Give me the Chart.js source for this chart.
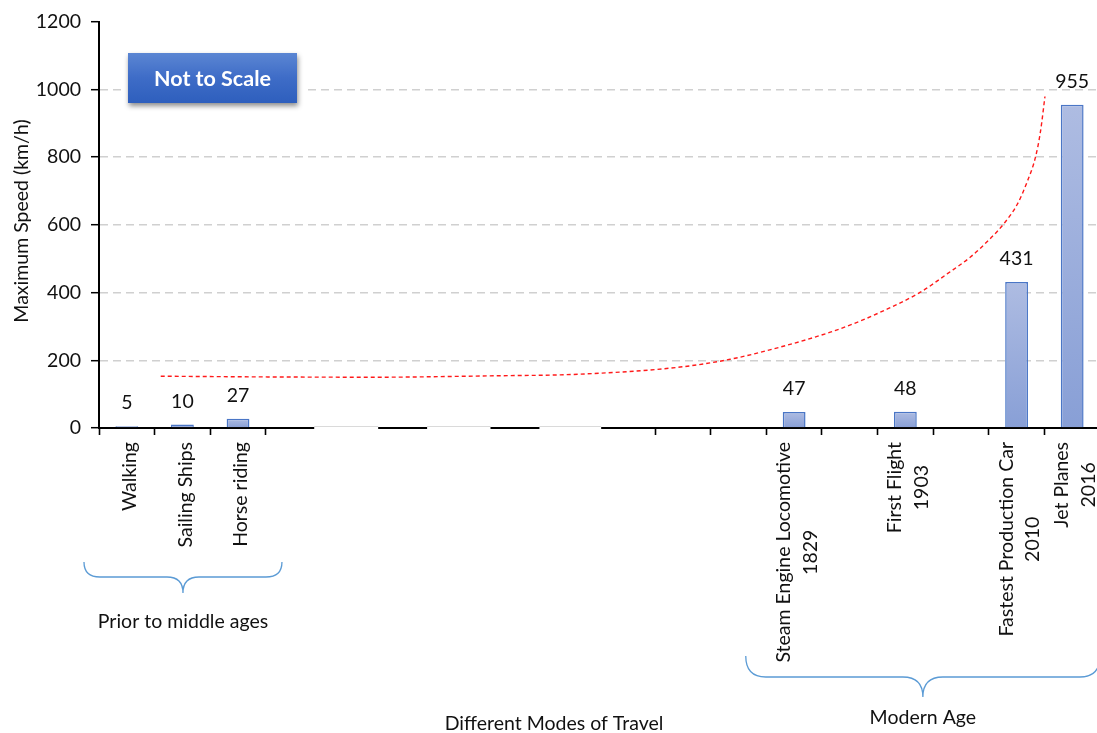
<!DOCTYPE html>
<html>
<head>
<meta charset="utf-8">
<title>Maximum Speed by Mode of Travel</title>
<script src="https://cdn.jsdelivr.net/npm/chart.js@4.4.1/dist/chart.umd.min.js"></script>
<style>
  html, body { margin: 0; padding: 0; background: #fff; overflow: hidden; }
  #wrap { position: relative; width: 1100px; height: 733px; }
  #c { display: block; }
  #note {
    position: absolute; left: 128px; top: 53px; width: 169px; height: 50px;
    background: linear-gradient(to bottom, #5b86d3 0%, #3e6cc7 50%, #2e5fbd 100%);
    color: #fff; font: bold 21.5px Lato, sans-serif;
    display: flex; align-items: center; justify-content: center;
    box-shadow: 1px 3px 5px rgba(0,0,0,0.45), 0 0 0 6px #fff;
  }
</style>
</head>
<body>
<div id="wrap">
  <canvas id="c" width="1100" height="733"></canvas>
  <div id="note">Not to Scale</div>
</div>
<script>
// Modes of travel along the category axis (multi-line labels as arrays)
const categories = [
  ['Walking'], ['Sailing Ships'], ['Horse riding'],
  [], [], [], [], [], [], [], [], [],
  ['Steam Engine Locomotive', '1829'], [],
  ['First Flight', '1903'], [],
  ['Fastest Production Car', '2010'],
  ['Jet Planes', '2016']
];

// Maximum speed in km/h for each mode
const speeds = [5, 10, 27, null, null, null, null, null, null, null, null, null, 47, null, 48, null, 431, 955];

// Value axis ticks
const yTicks = [0, 200, 400, 600, 800, 1000, 1200];

// Dashed growth curve: position in category index units and speed
const trendX = [0.61, 2.34, 4.43, 6.53, 8.15, 9.95, 10.85, 11.75, 12.65, 13.19, 13.55, 14.27, 14.75, 15.17, 15.53, 15.77, 16.01, 16.19, 16.34, 16.43, 16.51];
const trendY = [153, 151, 150, 154, 159, 180, 203, 239, 283, 316, 342, 401, 455, 505, 560, 603, 660, 727, 800, 876, 979];

// Group captions under the axis
const groupNames = ['Prior to middle ages', 'Modern Age'];
const xTitle = 'Different Modes of Travel';
const yTitle = 'Maximum Speed (km/h)';

const FONT = 'Lato, "Open Sans", sans-serif';
const FS = 19.5;

// Axis-break spans and brace extents, in category-boundary units
const breakSpans = [[3.87, 5.02], [5.90, 7.04], [7.92, 9.03]];
const braces = [
  { from: -0.27, to: 3.29, yTop: 562, yMid: 577, yTip: 593, r: 16, textY: 622 },
  { from: 11.63, to: 18.0, yTop: 656, yMid: 677, yTip: 697, r: 20, textY: 718 }
];

function boundaryPx(scale, u) {
  const w = (scale.right - scale.left) / categories.length;
  return scale.left + u * w;
}

const decorations = {
  id: 'decorations',
  afterDatasetsDraw(chart) {
    const ctx = chart.ctx;
    const xs = chart.scales.x, ys = chart.scales.y;
    // value labels above bars
    ctx.save();
    ctx.fillStyle = '#111';
    ctx.font = FS + 'px ' + FONT;
    ctx.textAlign = 'center';
    ctx.textBaseline = 'alphabetic';
    speeds.forEach((v, i) => {
      if (v == null) return;
      ctx.fillText(String(v), xs.getPixelForValue(i), ys.getPixelForValue(v) - 17);
    });
    ctx.restore();
  },
  afterDraw(chart) {
    const ctx = chart.ctx;
    const xs = chart.scales.x;
    const bottom = chart.chartArea.bottom;

    // breaks in the category axis
    ctx.save();
    breakSpans.forEach(([a, b]) => {
      const x1 = boundaryPx(xs, a), x2 = boundaryPx(xs, b);
      ctx.fillStyle = '#fff';
      ctx.fillRect(x1, bottom - 3, x2 - x1, 7);
      ctx.strokeStyle = '#dadada';
      ctx.lineWidth = 1;
      ctx.beginPath();
      ctx.moveTo(x1, bottom - 1.5);
      ctx.lineTo(x2, bottom - 1.5);
      ctx.stroke();
    });
    ctx.restore();

    // rotated category labels, lines centred on each other
    ctx.save();
    ctx.fillStyle = '#111';
    ctx.font = FS + 'px ' + FONT;
    ctx.textAlign = 'center';
    ctx.textBaseline = 'middle';
    const lh = 26.5;
    categories.forEach((lines, i) => {
      if (!lines.length) return;
      const cx = xs.getPixelForValue(i);
      const maxW = Math.max(...lines.map(s => ctx.measureText(s).width));
      const top = bottom + 14;
      lines.forEach((s, j) => {
        const off = (j - (lines.length - 1) / 2) * lh + 3;
        ctx.save();
        ctx.translate(cx + off, top + maxW / 2);
        ctx.rotate(-Math.PI / 2);
        ctx.fillText(s, 0, 0);
        ctx.restore();
      });
    });
    ctx.restore();

    // curly braces with group captions
    ctx.save();
    braces.forEach((b, k) => {
      const x1 = boundaryPx(xs, b.from), x2 = boundaryPx(xs, b.to);
      const xt = (x1 + x2) / 2;
      ctx.strokeStyle = '#5b9bd5';
      ctx.lineWidth = 1.3;
      ctx.beginPath();
      ctx.moveTo(x1, b.yTop);
      ctx.quadraticCurveTo(x1, b.yMid, x1 + b.r, b.yMid);
      ctx.lineTo(xt - b.r, b.yMid);
      ctx.quadraticCurveTo(xt, b.yMid, xt, b.yTip);
      ctx.quadraticCurveTo(xt, b.yMid, xt + b.r, b.yMid);
      ctx.lineTo(x2 - b.r, b.yMid);
      ctx.quadraticCurveTo(x2, b.yMid, x2, b.yTop);
      ctx.stroke();
      ctx.fillStyle = '#111';
      ctx.font = FS + 'px ' + FONT;
      ctx.textAlign = 'center';
      ctx.textBaseline = 'middle';
      ctx.fillText(groupNames[k], xt, b.textY);
    });
    ctx.restore();

    // axis titles
    ctx.save();
    ctx.fillStyle = '#111';
    ctx.font = FS + 'px ' + FONT;
    ctx.textAlign = 'center';
    ctx.textBaseline = 'middle';
    ctx.fillText(xTitle, 554, 724);
    ctx.translate(22, 221);
    ctx.rotate(-Math.PI / 2);
    ctx.fillText(yTitle, 0, 0);
    ctx.restore();
  }
};

function barFill(c) {
  const chart = c.chart;
  const v = c.raw;
  if (v == null || !chart.chartArea || !chart.scales.y) return '#9cafdc';
  const ys = chart.scales.y;
  const top = ys.getPixelForValue(v), base = ys.getPixelForValue(0);
  const g = chart.ctx.createLinearGradient(0, top, 0, Math.max(base, top + 1));
  g.addColorStop(0, '#aebce2');
  g.addColorStop(1, '#889fd6');
  return g;
}

function build() {
  new Chart(document.getElementById('c'), {
    type: 'bar',
    data: {
      labels: categories,
      datasets: [
        {
          type: 'bar',
          data: speeds,
          xAxisID: 'x', yAxisID: 'y',
          backgroundColor: barFill,
          borderColor: '#4a76c6',
          borderWidth: 1.5,
          grouped: false,
          barPercentage: 0.41,
          categoryPercentage: 1.0,
          order: 2
        },
        {
          type: 'line',
          data: trendX.map((x, i) => ({ x, y: trendY[i] })),
          xAxisID: 'xc', yAxisID: 'y',
          borderColor: '#ff1a1a',
          borderWidth: 1.4,
          borderDash: [4, 3],
          pointRadius: 0,
          fill: false,
          cubicInterpolationMode: 'monotone',
          order: 1
        }
      ]
    },
    options: {
      responsive: false,
      animation: false,
      devicePixelRatio: 1,
      layout: { padding: { top: 20, left: 0, right: 0, bottom: 0 } },
      plugins: { legend: { display: false }, tooltip: { enabled: false } },
      scales: {
        x: {
          type: 'category',
          offset: true,
          ticks: { display: false, autoSkip: false },
          grid: {
            offset: true,
            drawOnChartArea: false,
            drawTicks: true,
            tickLength: 7,
            tickWidth: 1.6,
            color: '#000',
            tickColor: (c) => (c.index >= 4 && c.index <= 9) ? 'rgba(0,0,0,0)' : '#000'
          },
          border: { display: true, color: '#000', width: 2 },
          afterFit(s) { s.height = 305; }
        },
        xc: {
          type: 'linear',
          axis: 'x',
          position: 'bottom',
          display: false,
          offset: false,
          grid: { offset: false },
          min: -0.5,
          max: categories.length - 0.5
        },
        y: {
          min: yTicks[0],
          max: yTicks[yTicks.length - 1],
          afterBuildTicks(s) { s.ticks = yTicks.map(v => ({ value: v })); },
          ticks: {
            color: '#111',
            font: { family: FONT, size: FS },
            padding: 10,
            callback: (v) => String(v)
          },
          grid: {
            color: (c) => (c.tick && (c.tick.value === yTicks[0] || c.tick.value === yTicks[yTicks.length - 1])) ? 'rgba(0,0,0,0)' : '#d0d0d0',
            lineWidth: 1.4,
            tickColor: '#000',
            tickLength: 8,
            tickWidth: 1.5,
            tickBorderDash: []
          },
          border: { display: true, color: '#000', width: 2, dash: [8, 5] },
          afterFit(s) { s.width = 99; }
        }
      }
    },
    plugins: [decorations]
  });
}

const loads = document.fonts ? Promise.all([
  document.fonts.load(FS + 'px Lato'),
  document.fonts.load('bold 21px Lato')
]).catch(() => {}) : Promise.resolve();
loads.then(build);
</script>
</body>
</html>
